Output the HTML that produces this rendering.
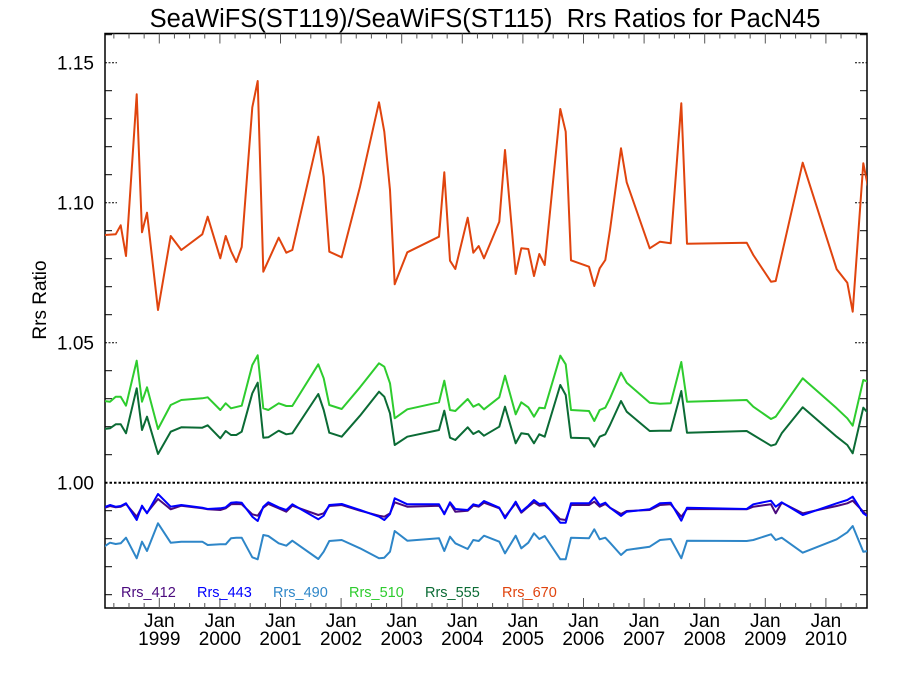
<!DOCTYPE html>
<html><head><meta charset="utf-8"><style>
html,body{margin:0;padding:0;background:#fff}
svg{display:block;font-family:"Liberation Sans",Arial,sans-serif}
</style></head><body>
<svg id="s" width="900" height="675" xmlns="http://www.w3.org/2000/svg">
<defs><clipPath id="c"><rect x="105" y="33.5" width="762" height="574.5"/></clipPath></defs>
<text x="485" y="27" font-size="25.5" text-anchor="middle" xml:space="preserve">SeaWiFS(ST119)/SeaWiFS(ST115)  Rrs Ratios for PacN45</text>
<text transform="translate(46,300) rotate(-90)" font-size="19" text-anchor="middle">Rrs Ratio</text>
<g id="ax"></g>
<g id="lines" clip-path="url(#c)" fill="none" stroke-width="2" stroke-linejoin="round"></g>
<g font-size="14.5">
<text x="121" y="597" fill="#4b0a7e">Rrs_412</text>
<text x="197" y="597" fill="#0000ff">Rrs_443</text>
<text x="273" y="597" fill="#2e86c8">Rrs_490</text>
<text x="349" y="597" fill="#2ecc2e">Rrs_510</text>
<text x="425" y="597" fill="#0b6b35">Rrs_555</text>
<text x="502" y="597" fill="#e0440e">Rrs_670</text>
</g>
</svg>
<script>
var NS="http://www.w3.org/2000/svg";
function el(p,t,a,txt){var e=document.createElementNS(NS,t);for(var k in a)e.setAttribute(k,a[k]);if(txt)e.textContent=txt;p.appendChild(e);return e;}
var ax=document.getElementById('ax');
var L=105,R=867,T=33.5,B=608;
el(ax,'rect',{x:L,y:T,width:R-L,height:B-T,fill:'none',stroke:'#000','stroke-width':1.5});
function yv(v){return 482.7-(v-1)*2800;}
for(var i=-4;i<=16;i++){var v=1+i*0.01;var y=yv(v);if(y<T+1||y>B-1)continue;
 if(i%5==0){
  if(i!=0){el(ax,'line',{x1:L,y1:y,x2:L+12,y2:y,stroke:'#000','stroke-width':1,'stroke-dasharray':'2,1.5'});
  el(ax,'line',{x1:R-12,y1:y,x2:R,y2:y,stroke:'#000','stroke-width':1,'stroke-dasharray':'2,1.5'});}
  el(ax,'text',{x:94,y:y+7,'font-size':19,'text-anchor':'end'},v.toFixed(2));
 }else{
  el(ax,'line',{x1:L,y1:y,x2:L+7,y2:y,stroke:'#000','stroke-width':1});
  el(ax,'line',{x1:R-7,y1:y,x2:R,y2:y,stroke:'#000','stroke-width':1});
 }}
el(ax,'line',{x1:L,y1:yv(1),x2:R,y2:yv(1),stroke:'#000','stroke-width':2,'stroke-dasharray':'2.5,2'});
var x0=159.3,yr=60.6;
for(var q=-4;q<=48;q++){var x=x0+q*yr/4;if(x<=L+1||x>=R-1)continue;var len=(q%4==0)?10:5;
 el(ax,'line',{x1:x,y1:B,x2:x,y2:B-len,stroke:'#555','stroke-width':1});
 el(ax,'line',{x1:x,y1:T,x2:x,y2:T+len,stroke:'#555','stroke-width':1});
 if(q%4==0){el(ax,'text',{x:x,y:627,'font-size':19,'text-anchor':'middle'},'Jan');
 el(ax,'text',{x:x,y:645,'font-size':19,'text-anchor':'middle'},String(1999+q/4));}
}
function conv(off,a){return a.map(function(p){return [off+p[0]/3,70+p[1]/3];});}
function S(a6,a7,a8){return conv(104,a6).concat(conv(360,a7),conv(610,a8));}
var data={
'#e0440e':S([[0,495],[35,493],[50,466],[66,558],[98,73],[114,487],[129,428],[162,720],[200,498],[232,540],[295,493],[311,440],[349,565],[365,498],[381,543],[397,576],[413,531],[445,112],[461,33],[478,605],[524,503],[547,548],[565,540],[643,200],[659,320],[676,545],[713,562]],
[[0,350],[57,97],[73,185],[90,360],[104,643],[142,547],[237,500],[253,307],[270,572],[286,597],[323,443],[340,548],[356,528],[372,565],[418,455],[435,240],[467,612],[484,535],[505,537],[522,618],[538,552],[554,585],[601,117],[617,185],[633,571],[687,590],[703,648],[719,595],[736,570]],
[[0,480],[33,235],[50,337],[119,535],[150,515],[182,520],[214,100],[231,521],[410,518],[430,555],[483,635],[497,633],[578,278],[680,598],[712,638],[728,725],[760,280],[775,355]]),
'#2ecc2e':S([[0,993],[18,995],[35,980],[50,980],[66,1007],[98,872],[114,995],[129,952],[162,1077],[200,1005],[232,990],[295,985],[311,982],[349,1020],[365,1000],[381,1015],[413,1007],[445,885],[461,856],[478,1015],[493,1020],[524,1000],[547,1008],[565,1008],[643,883],[659,925],[676,1005],[713,1017]],
[[0,952],[57,880],[73,890],[90,940],[104,1045],[142,1018],[237,997],[253,932],[270,1020],[286,1023],[323,987],[340,1010],[356,1002],[372,1018],[418,982],[435,917],[467,1033],[484,997],[505,1012],[522,1040],[538,1013],[554,1015],[601,857],[617,883],[633,1020],[687,1023],[703,1053],[719,1020],[736,1013]],
[[0,985],[33,908],[50,938],[119,998],[150,1001],[182,1000],[214,876],[231,995],[410,990],[430,1010],[483,1047],[497,1040],[578,925],[680,1015],[712,1045],[728,1067],[760,930],[775,935]]),
'#0b6b35':S([[0,1077],[18,1075],[35,1063],[50,1063],[66,1090],[98,955],[114,1080],[129,1040],[162,1152],[200,1085],[232,1072],[295,1073],[311,1066],[349,1105],[365,1083],[381,1095],[397,1095],[413,1085],[445,970],[461,938],[478,1103],[493,1102],[524,1082],[547,1093],[565,1090],[643,972],[659,1020],[676,1088],[713,1100]],
[[0,1037],[57,965],[73,980],[90,1030],[104,1125],[142,1100],[237,1080],[253,1022],[270,1103],[286,1110],[323,1072],[340,1092],[356,1083],[372,1097],[418,1070],[435,1010],[467,1120],[484,1090],[505,1093],[522,1120],[538,1093],[554,1100],[601,945],[617,975],[633,1103],[687,1105],[703,1130],[719,1100],[736,1093]],
[[0,1065],[33,993],[50,1025],[119,1083],[150,1082],[182,1082],[214,963],[231,1088],[410,1083],[430,1095],[483,1127],[497,1123],[515,1090],[578,1012],[680,1100],[712,1125],[728,1150],[760,1013],[775,1030]]),
'#2e86c8':S([[0,1430],[18,1418],[35,1422],[50,1420],[66,1403],[98,1465],[114,1415],[129,1443],[162,1360],[200,1418],[232,1415],[295,1415],[311,1425],[349,1423],[365,1423],[381,1405],[397,1403],[413,1403],[445,1462],[461,1468],[478,1395],[493,1398],[524,1420],[547,1427],[565,1412],[643,1467],[659,1445],[676,1413],[713,1410]],
[[0,1435],[57,1465],[73,1463],[90,1445],[104,1383],[142,1412],[237,1405],[253,1443],[270,1400],[286,1420],[323,1437],[340,1410],[356,1413],[372,1397],[418,1415],[435,1450],[467,1397],[484,1435],[505,1418],[522,1390],[538,1407],[554,1398],[601,1468],[617,1468],[633,1403],[687,1405],[703,1378],[719,1408],[736,1403]],
[[0,1418],[33,1455],[50,1440],[119,1430],[150,1410],[182,1407],[214,1465],[231,1412],[410,1413],[430,1410],[483,1393],[497,1410],[515,1403],[578,1448],[680,1408],[712,1387],[728,1368],[760,1445],[775,1443]]),
'#4b0a7e':S([[0,1314],[18,1308],[35,1312],[50,1310],[66,1302],[98,1340],[114,1310],[129,1328],[162,1287],[200,1318],[232,1307],[295,1315],[311,1318],[349,1320],[365,1315],[381,1303],[397,1302],[413,1303],[445,1333],[461,1337],[478,1313],[493,1302],[524,1315],[547,1325],[565,1307],[643,1335],[659,1330],[676,1308],[713,1305]],
[[0,1322],[57,1337],[73,1340],[90,1330],[104,1297],[142,1310],[237,1307],[253,1330],[270,1300],[286,1325],[323,1322],[340,1307],[356,1310],[372,1298],[418,1315],[435,1340],[467,1300],[484,1328],[505,1310],[522,1297],[538,1307],[554,1305],[601,1348],[617,1350],[633,1305],[687,1305],[703,1295],[719,1310],[736,1302]],
[[0,1313],[33,1332],[50,1323],[119,1320],[150,1305],[182,1303],[214,1340],[231,1317],[410,1318],[430,1310],[483,1303],[497,1330],[515,1298],[578,1330],[680,1308],[712,1300],[728,1292],[760,1325],[775,1340]]),
'#0000ff':S([[0,1312],[18,1305],[35,1310],[50,1308],[66,1300],[98,1350],[114,1307],[129,1330],[162,1272],[200,1310],[232,1305],[295,1313],[311,1317],[349,1315],[365,1312],[381,1298],[397,1297],[413,1298],[445,1340],[461,1353],[478,1310],[493,1297],[524,1312],[547,1320],[565,1303],[643,1348],[659,1337],[676,1305],[713,1302]],
[[0,1320],[57,1340],[73,1350],[90,1332],[104,1285],[142,1303],[237,1303],[253,1333],[270,1297],[286,1317],[323,1320],[340,1303],[356,1307],[372,1293],[418,1313],[435,1345],[467,1295],[484,1325],[505,1307],[522,1290],[538,1302],[554,1300],[601,1358],[617,1358],[633,1300],[687,1300],[703,1282],[719,1305],[736,1298]],
[[0,1313],[33,1338],[50,1325],[119,1318],[150,1300],[182,1298],[214,1352],[231,1313],[410,1317],[430,1303],[483,1292],[497,1310],[515,1297],[578,1335],[680,1300],[712,1290],[728,1280],[760,1330],[775,1340]])
};
var g=document.getElementById('lines');
['#2e86c8','#4b0a7e','#0000ff','#2ecc2e','#0b6b35','#e0440e'].forEach(function(c){
 var pts=data[c].map(function(p){return p[0].toFixed(1)+','+p[1].toFixed(1);}).join(' ');
 el(g,'polyline',{points:pts,stroke:c});
});
</script>
</body></html>
